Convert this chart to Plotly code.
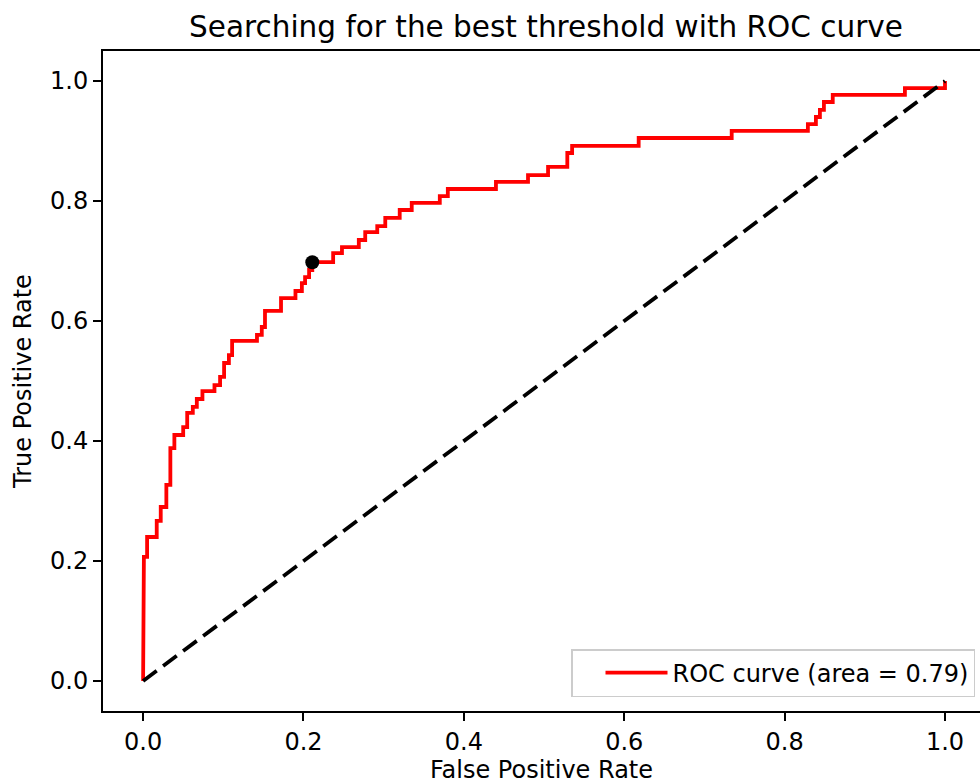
import plotly.graph_objects as go

# ROC curve vertices
fpr = [0.0, 0.0, 0.001, 0.005, 0.005, 0.017, 0.017, 0.022, 0.022, 0.029, 0.029, 0.034, 0.034,
       0.039, 0.039, 0.050, 0.050, 0.055, 0.055, 0.062, 0.062, 0.067, 0.067, 0.074, 0.074,
       0.089, 0.089, 0.096, 0.096, 0.101, 0.101, 0.107, 0.107, 0.111, 0.111, 0.142, 0.142,
       0.148, 0.148, 0.152, 0.152, 0.172, 0.172, 0.190, 0.190, 0.198, 0.198, 0.202, 0.202,
       0.207, 0.207, 0.211, 0.211, 0.237, 0.237, 0.248, 0.248, 0.269, 0.269, 0.277, 0.277,
       0.292, 0.292, 0.302, 0.302, 0.320, 0.320, 0.335, 0.335, 0.370, 0.370, 0.380, 0.380,
       0.440, 0.440, 0.480, 0.480, 0.505, 0.505, 0.529, 0.529, 0.535, 0.535, 0.618, 0.618,
       0.734, 0.734, 0.829, 0.829, 0.839, 0.839, 0.844, 0.844, 0.849, 0.849, 0.860, 0.860,
       0.950, 0.950, 1.0, 1.0]
tpr = [0.0, 0.132, 0.207, 0.207, 0.240, 0.240, 0.267, 0.267, 0.290, 0.290, 0.327, 0.327, 0.388,
       0.388, 0.410, 0.410, 0.423, 0.423, 0.447, 0.447, 0.457, 0.457, 0.470, 0.470, 0.483,
       0.483, 0.493, 0.493, 0.507, 0.507, 0.530, 0.530, 0.543, 0.543, 0.567, 0.567, 0.577,
       0.577, 0.590, 0.590, 0.617, 0.617, 0.638, 0.638, 0.650, 0.650, 0.663, 0.663, 0.673,
       0.673, 0.685, 0.685, 0.698, 0.698, 0.713, 0.713, 0.723, 0.723, 0.735, 0.735, 0.748,
       0.748, 0.758, 0.758, 0.772, 0.772, 0.785, 0.785, 0.797, 0.797, 0.808, 0.808, 0.820,
       0.820, 0.832, 0.832, 0.843, 0.843, 0.857, 0.857, 0.880, 0.880, 0.892, 0.892, 0.905,
       0.905, 0.917, 0.917, 0.928, 0.928, 0.940, 0.940, 0.952, 0.952, 0.965, 0.965, 0.977,
       0.977, 0.988, 0.988, 1.0]

chance_x = [0.0, 1.0]
chance_y = [0.0, 1.0]

best_fpr = [0.211]
best_tpr = [0.698]

roc_label = "ROC curve (area = 0.79)"
tick_vals = [0.0, 0.2, 0.4, 0.6, 0.8, 1.0]
tick_text = ["0.0", "0.2", "0.4", "0.6", "0.8", "1.0"]

FONT = "DejaVu Sans"
FS = 24

fig = go.Figure()
fig.add_trace(go.Scatter(x=fpr, y=tpr, mode="lines", name=roc_label,
                         line=dict(color="#ff0000", width=3.8)))
fig.add_trace(go.Scatter(x=chance_x, y=chance_y, mode="lines", showlegend=False,
                         line=dict(color="black", width=3.8, dash="17px,8px")))
fig.add_trace(go.Scatter(x=best_fpr, y=best_tpr, mode="markers", showlegend=False,
                         marker=dict(color="black", size=14)))

axis_common = dict(showline=True, linecolor="black", linewidth=1.9, ticks="outside",
                   ticklen=8, tickwidth=1.9, tickcolor="black", showgrid=False,
                   zeroline=False, tickvals=tick_vals, ticktext=tick_text,
                   tickfont=dict(family=FONT, size=FS, color="black"))

fig.update_layout(
    width=980, height=784,
    margin=dict(l=103, r=0, t=51, b=73, pad=0),
    paper_bgcolor="white", plot_bgcolor="white",
    font=dict(family=FONT, color="black"),
    title=dict(text="Searching for the best threshold with ROC curve",
               x=546 / 980, xref="container", xanchor="center",
               y=1 - 27 / 784, yref="container", yanchor="middle",
               font=dict(family=FONT, size=29.5, color="black")),
    xaxis=dict(range=[-0.05, (980 - 143) / 802], mirror=True,
               title=dict(text="False Positive Rate", standoff=10,
                          font=dict(family=FONT, size=FS, color="black")),
               **axis_common),
    yaxis=dict(range=[-0.05, 1.05], mirror=False,
               title=dict(text="True Positive Rate", standoff=12,
                          font=dict(family=FONT, size=FS, color="black")),
               **axis_common),
    legend=dict(x=(975 - 103) / 877, xanchor="right", y=(711 - 697) / 660, yanchor="bottom",
                bgcolor="rgba(255,255,255,0.8)", bordercolor="#cccccc", borderwidth=1.5,
                indentation=28, itemwidth=62,
                font=dict(family=FONT, size=FS, color="black")),
    showlegend=True,
)

fig.write_html("out.html")
